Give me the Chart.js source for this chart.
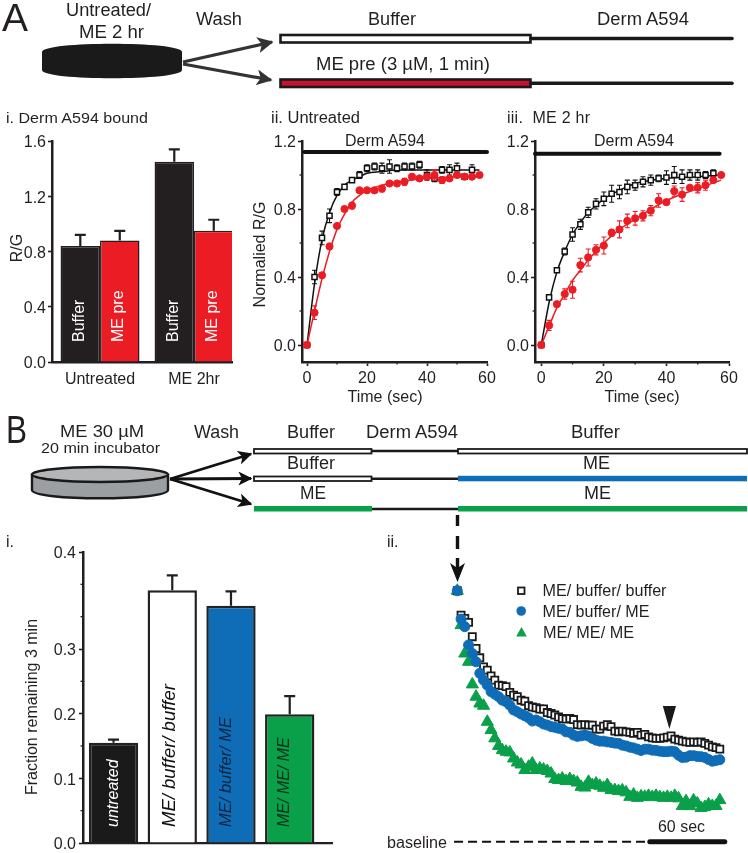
<!DOCTYPE html>
<html><head><meta charset="utf-8">
<style>
html,body{margin:0;padding:0;background:#fff;width:748px;height:853px;overflow:hidden}
#wrap{position:relative;width:748px;height:853px;overflow:hidden}
canvas{position:absolute}
svg{position:absolute;left:0;top:0;pointer-events:none}
svg text{font-family:"Liberation Sans",Arial,sans-serif;fill:#231f20}
</style>
<script src="https://cdn.jsdelivr.net/npm/chart.js@4"></script>
</head><body><div id="wrap">
<canvas id="ai"></canvas><canvas id="aii"></canvas><canvas id="aiii"></canvas><canvas id="bi"></canvas><canvas id="bii"></canvas>
<svg width="748" height="853" viewBox="0 0 748 853">
<defs>
<marker id="hA" viewBox="0 0 10 10" refX="9" refY="5" markerWidth="5" markerHeight="5" orient="auto"><path d="M0 0L10 5L0 10L2.5 5z" fill="#333"/></marker>
<marker id="hB" viewBox="0 0 10 10" refX="9" refY="5" markerWidth="5" markerHeight="5" orient="auto"><path d="M0 0L10 5L0 10L2.5 5z" fill="#111"/></marker>
</defs>
<!-- Panel A schematic -->
<text x="2" y="31" font-size="39" textLength="26" lengthAdjust="spacingAndGlyphs">A</text>
<text x="66" y="16" font-size="18" textLength="85" lengthAdjust="spacingAndGlyphs">Untreated/</text>
<text x="79" y="38" font-size="18" textLength="65" lengthAdjust="spacingAndGlyphs">ME 2 hr</text>
<text x="196" y="25" font-size="18" textLength="46" lengthAdjust="spacingAndGlyphs">Wash</text>
<text x="368" y="25" font-size="18" textLength="48" lengthAdjust="spacingAndGlyphs">Buffer</text>
<text x="597" y="25" font-size="18" textLength="92" lengthAdjust="spacingAndGlyphs">Derm A594</text>
<text x="316" y="70" font-size="18" textLength="174" lengthAdjust="spacingAndGlyphs">ME pre (3 µM, 1 min)</text>
<path d="M42 52C42 41 182 41 182 52V70C182 81 42 81 42 70Z" fill="#1b1a1b"/>
<line x1="183" y1="62" x2="272" y2="42" stroke="#333" stroke-width="3.2" marker-end="url(#hA)"/>
<line x1="183" y1="64" x2="271" y2="80" stroke="#333" stroke-width="3.2" marker-end="url(#hA)"/>
<rect x="280.5" y="35" width="250" height="7.5" fill="#fff" stroke="#1b1a1b" stroke-width="2.6"/>
<line x1="531" y1="38.5" x2="732" y2="38.5" stroke="#1b1a1b" stroke-width="3.6" stroke-linecap="round"/>
<rect x="280.5" y="79.5" width="250" height="7.5" fill="#c4122f" stroke="#1b1a1b" stroke-width="2.6"/>
<line x1="531" y1="83.3" x2="732" y2="83.3" stroke="#1b1a1b" stroke-width="3.6" stroke-linecap="round"/>
<!-- Panel titles row A -->
<text x="6" y="123" font-size="15.5" textLength="142" lengthAdjust="spacingAndGlyphs">i. Derm A594 bound</text>
<text x="271" y="123" font-size="16" textLength="89" lengthAdjust="spacingAndGlyphs">ii. Untreated</text>
<text x="507" y="123" font-size="16" textLength="83" xml:space="preserve">iii.  ME 2 hr</text>
<text x="345" y="146" font-size="16" textLength="80" lengthAdjust="spacingAndGlyphs">Derm A594</text>
<text x="594" y="146" font-size="16" textLength="80" lengthAdjust="spacingAndGlyphs">Derm A594</text>
<text x="385" y="402" font-size="16" text-anchor="middle">Time (sec)</text>
<text x="642" y="402" font-size="16" text-anchor="middle">Time (sec)</text>
<text transform="translate(22,248) rotate(-90)" font-size="16" text-anchor="middle">R/G</text>
<text transform="translate(265,254.5) rotate(-90)" font-size="16" text-anchor="middle">Normalied R/G</text>
<!-- Panel B schematic -->
<text x="6" y="443" font-size="39" textLength="21" lengthAdjust="spacingAndGlyphs">B</text>
<text x="60" y="437" font-size="17" textLength="84" lengthAdjust="spacingAndGlyphs">ME 30 µM</text>
<text x="41" y="453" font-size="14.5" textLength="119" lengthAdjust="spacingAndGlyphs">20 min incubator</text>
<text x="194" y="438" font-size="18" textLength="45" lengthAdjust="spacingAndGlyphs">Wash</text>
<text x="287" y="438" font-size="18" textLength="48" lengthAdjust="spacingAndGlyphs">Buffer</text>
<text x="366" y="438" font-size="18" textLength="92" lengthAdjust="spacingAndGlyphs">Derm A594</text>
<text x="571" y="438" font-size="18" textLength="49" lengthAdjust="spacingAndGlyphs">Buffer</text>
<text x="287" y="469" font-size="18" textLength="48" lengthAdjust="spacingAndGlyphs">Buffer</text>
<text x="583" y="469" font-size="18" textLength="27" lengthAdjust="spacingAndGlyphs">ME</text>
<text x="300" y="499" font-size="18" textLength="26" lengthAdjust="spacingAndGlyphs">ME</text>
<text x="584" y="499" font-size="18" textLength="27" lengthAdjust="spacingAndGlyphs">ME</text>
<path d="M32 474V490C32 501 168 501 168 490V474" fill="#9c9fa2" stroke="#1b1a1b" stroke-width="2.4"/>
<ellipse cx="100" cy="474.5" rx="68" ry="7.5" fill="#b4b6b8" stroke="#1b1a1b" stroke-width="2.4"/>
<line x1="170" y1="479" x2="251" y2="454" stroke="#111" stroke-width="2.8" marker-end="url(#hB)"/>
<line x1="170" y1="479" x2="251" y2="478.5" stroke="#111" stroke-width="2.8" marker-end="url(#hB)"/>
<line x1="170" y1="479" x2="251" y2="504" stroke="#111" stroke-width="2.8" marker-end="url(#hB)"/>
<rect x="254" y="449" width="117.5" height="4.5" fill="#fff" stroke="#1b1a1b" stroke-width="1.8"/>
<line x1="372" y1="451" x2="458" y2="451" stroke="#1b1a1b" stroke-width="2.4"/>
<rect x="458" y="449" width="289" height="4.5" fill="#fff" stroke="#1b1a1b" stroke-width="1.8"/>
<rect x="254" y="476.5" width="117.5" height="4.5" fill="#fff" stroke="#1b1a1b" stroke-width="1.8"/>
<line x1="372" y1="478.7" x2="458" y2="478.7" stroke="#1b1a1b" stroke-width="2.4"/>
<rect x="458" y="475.8" width="289" height="5.5" fill="#0f6cb6"/>
<rect x="254" y="506" width="118" height="5.5" fill="#0a9f49"/>
<line x1="372" y1="509" x2="458" y2="509" stroke="#1b1a1b" stroke-width="2.4"/>
<rect x="458" y="506" width="289" height="5.5" fill="#0a9f49"/>
<path d="M457.5 515V526M457.5 536V549M457.5 558V577" stroke="#111" stroke-width="3.4" fill="none"/>
<path d="M450 563L457.5 568L465 563L457.5 582Z" fill="#111"/>
<text x="6" y="547" font-size="16">i.</text>
<text x="387" y="547" font-size="16">ii.</text>
<text transform="translate(37,707) rotate(-90)" font-size="16" text-anchor="middle">Fraction remaining 3 min</text>
<!-- Legend B.ii -->
<rect x="518" y="587.5" width="6.5" height="6.5" fill="#fff" stroke="#1b1a1b" stroke-width="1.8"/>
<circle cx="521.2" cy="611" r="4.8" fill="#0f6cb6"/>
<path d="M521.5 627L526.8 636.5H516.2Z" fill="#0a9f49"/>
<text x="542.5" y="596" font-size="16.5" textLength="124" lengthAdjust="spacingAndGlyphs">ME/ buffer/ buffer</text>
<text x="542.5" y="617" font-size="16.5" textLength="107" lengthAdjust="spacingAndGlyphs">ME/ buffer/ ME</text>
<text x="543" y="638" font-size="16.5" textLength="91" lengthAdjust="spacingAndGlyphs">ME/ ME/ ME</text>
<text x="658" y="832" font-size="16" textLength="47" lengthAdjust="spacingAndGlyphs">60 sec</text>
<text x="387" y="848" font-size="16" textLength="60" lengthAdjust="spacingAndGlyphs">baseline</text>
<path d="M662.8 706H676L669.4 729Z" fill="#1b1a1b"/>
</svg>
</div>
<script>
// ---------- Panel A.i ----------
const aiGroups = ["Untreated", "ME 2hr"];
const aiBuffer = [0.84, 1.45];
const aiMePre = [0.88, 0.95];
const aiBufferErr = [0.08, 0.09];
const aiMePreErr = [0.07, 0.08];
const aiYTicks = [0, 0.4, 0.8, 1.2, 1.6];

// ---------- Panels A.ii and A.iii ----------
const timeA = [0,2.5,5,7.5,10,12.5,15,17.5,20,22.5,25,27.5,30,32.5,35,37.5,40,42.5,45,47.5,50,52.5,55,57.5];
const aiiBlack = [0,0.40,0.63,0.76,0.90,0.93,0.97,1.00,1.04,1.05,1.04,1.05,1.04,1.05,1.05,1.06,1.00,0.98,1.03,1.03,1.04,0.99,1.03];
const aiiBlackErr = [0,0.04,0.04,0.04,0.02,0.01,0.01,0.02,0.02,0.02,0.03,0.04,0.02,0.02,0.02,0.02,0.03,0.02,0.02,0.03,0.03,0.01,0.03];
const aiiRed = [0,0.19,0.41,0.58,0.70,0.80,0.82,0.91,0.91,0.91,0.92,0.95,0.95,0.96,0.99,0.98,0.99,1.00,0.97,0.98,1.00,0.99,0.99,1.00];
const aiiRedErr = [0,0.04,0.01,0.01,0.01,0.01,0.02,0.01,0.01,0.01,0.02,0.01,0.01,0.02,0.01,0.01,0.01,0.03,0.02,0.01,0.01,0.01,0.01,0.01];
const fitTimeA = [0,2.5,5,7.5,10,12.5,15,17.5,20,25,30,40,50,57.5];
const aiiBlackFit = [0,0.36,0.62,0.78,0.88,0.94,0.97,0.99,1.01,1.02,1.03,1.03,1.03,1.03];
const aiiRedFit = [0,0.20,0.39,0.55,0.68,0.77,0.84,0.88,0.91,0.94,0.96,0.98,0.99,0.99];
const aiiiBlack = [0,0.28,0.44,0.55,0.65,0.71,0.78,0.83,0.86,0.89,0.90,0.93,0.94,0.96,0.97,0.98,0.985,1.00,0.99,1.00,1.00,1.00,1.01];
const aiiiBlackErr = [0,0.01,0.01,0.02,0.04,0.03,0.03,0.03,0.04,0.05,0.04,0.04,0.03,0.03,0.03,0.02,0.04,0.05,0.04,0.03,0.03,0.02,0.02];
const aiiiRed = [0,0.115,0.24,0.30,0.325,0.47,0.515,0.56,0.585,0.66,0.68,0.73,0.745,0.76,0.79,0.85,0.84,0.905,0.885,0.925,0.925,0.94,0.97,1.00];
const aiiiRedErr = [0,0.03,0.01,0.03,0.05,0.04,0.05,0.03,0.05,0.02,0.05,0.04,0.04,0.03,0.03,0.04,0.01,0.03,0.04,0.01,0.03,0.03,0.01,0.01];
const aiiiBlackFit = [0,0.25,0.43,0.55,0.65,0.72,0.78,0.82,0.86,0.91,0.95,0.98,0.99,1.00];
const aiiiRedFit = [0,0.11,0.22,0.30,0.38,0.44,0.50,0.55,0.60,0.68,0.74,0.85,0.92,0.97];
const aiiYTicks = [0, 0.4, 0.8, 1.2];
const aiiXTicks = [0, 20, 40, 60];
const aiiDermX = [-0.9, 60];
const aiiiDermX = [-2, 57];

// ---------- Panel B.i ----------
const biCats = ["untreated", "ME/ buffer/ buffer", "ME/ buffer/ ME", "ME/ ME/ ME"];
const biValues = [0.155, 0.391, 0.367, 0.199];
const biErr = [0.005, 0.023, 0.022, 0.028];
const biYTicks = [0, 0.1, 0.2, 0.3, 0.45];
const biYLabels = ["0.0", "0.1", "0.2", "0.3", "0.4"];

// ---------- Panel B.ii ----------
const biiTimeStep3 = [0,3,6,9,12,15,18,21,24,27,30,33,36,39,42,45,48,51,54,57,60,63,66,69,72,75,78,81,84,87,90,93,96,99,102,105,108,111,114,117,120,123,126,129,132,135,138,141,144,147,150,153,156,159,162,165,168,171,174,177,180,183,186,189,192,195,198,201,204,207,210];
const biiBuffer = [1,.903,.890,.874,.817,.770,.733,.697,.684,.661,.644,.624,.622,.618,.595,.584,.578,.564,.560,.542,.537,.534,.529,.529,.515,.511,.505,.497,.491,.489,.491,.487,.467,.465,.467,.465,.465,.449,.449,.461,.467,.459,.441,.438,.441,.438,.436,.432,.436,.425,.428,.418,.414,.412,.412,.414,.417,.422,.409,.405,.401,.398,.396,.398,.396,.398,.392,.385,.378,.375,.369];
const biiBufferMe = [1,.887,.857,.784,.750,.717,.671,.644,.624,.598,.588,.578,.564,.558,.544,.525,.518,.509,.502,.494,.481,.485,.478,.469,.465,.459,.456,.452,.449,.438,.436,.425,.420,.422,.425,.421,.412,.405,.401,.401,.398,.396,.393,.392,.385,.382,.377,.374,.369,.364,.369,.369,.365,.364,.361,.359,.359,.361,.359,.345,.336,.337,.343,.343,.340,.339,.336,.328,.321,.324,.327];
const biiMeMe = [1,.863,.750,.717,.627,.578,.551,.542,.478,.445,.412,.382,.365,.359,.356,.332,.316,.308,.286,.299,.312,.286,.292,.288,.282,.272,.250,.246,.252,.242,.250,.242,.236,.219,.216,.239,.226,.232,.223,.215,.226,.206,.206,.202,.205,.197,.179,.188,.175,.181,.179,.183,.178,.183,.178,.175,.179,.175,.183,.173,.143,.162,.142,.165,.153,.135,.139,.149,.143,.143,.166];
const biiBaselineX = [-2.6, 154];
const bii60secX = [154, 214];

const INK = "#231f20", RED = "#ec1c24", BLUE = "#0f6cb6", GREEN = "#0a9f49";
Chart.defaults.font.family = '"Liberation Sans", Arial, sans-serif';
Chart.defaults.color = INK;
Chart.defaults.animation = false;

const pairs = (xs, ys) => ys.map((y, i) => ({x: xs[i], y}));

const panelPlugin = {
  id: "panelExtras",
  beforeDatasetDraw(chart, args) {
    const ds = chart.data.datasets[args.index];
    if (!ds.err) return;
    const c = chart.ctx, yS = chart.scales.y, vals = ds.data;
    c.save();
    c.strokeStyle = ds.errColor || INK;
    c.lineWidth = ds.errWidth || 1;
    args.meta.data.forEach((el, i) => {
      const e = ds.err[i]; if (!e) return;
      const v = vals[i].y, x = el.x, top = yS.getPixelForValue(v + e);
      const low = ds.errUpOnly ? yS.getPixelForValue(v) : yS.getPixelForValue(v - e);
      const cap = ds.errCap || 2.5;
      c.beginPath();
      c.moveTo(x, low); c.lineTo(x, top);
      c.moveTo(x - cap, top); c.lineTo(x + cap, top);
      if (!ds.errUpOnly) { c.moveTo(x - cap, low); c.lineTo(x + cap, low); }
      c.stroke();
    });
    c.restore();
  },
  afterDraw(chart) {
    const o = chart.options.plugins.panelExtras || {}, c = chart.ctx;
    c.save();
    c.strokeStyle = INK; c.lineWidth = 1.3;
    (o.minorY || []).forEach(v => {
      const p = chart.scales.y.getPixelForValue(v), l = chart.chartArea.left;
      c.beginPath(); c.moveTo(l - 2.5, p); c.lineTo(l, p); c.stroke();
    });
    (o.minorX || []).forEach(v => {
      const p = chart.scales.x.getPixelForValue(v), b = chart.chartArea.bottom;
      c.beginPath(); c.moveTo(p, b); c.lineTo(p, b + 2.5); c.stroke();
    });
    // vertical text inside the bars
    chart.data.datasets.forEach((ds, di) => {
      if (!ds.barText) return;
      chart.getDatasetMeta(di).data.forEach((el, i) => {
        const t = ds.barText[i];
        c.save();
        c.translate(el.x + t.dx, chart.scales.y.getPixelForValue(0) - t.up);
        c.rotate(-Math.PI / 2);
        c.textAlign = "left"; c.textBaseline = "middle";
        c.font = `${t.italic ? "italic " : ""}${t.size}px "Liberation Sans", Arial, sans-serif`;
        c.fillStyle = t.color;
        c.fillText(t.text, 0, 0);
        c.restore();
      });
    });
    c.restore();
  }
};
Chart.register(panelPlugin);

function setBox(id, l, t, r, b) {
  const cv = document.getElementById(id);
  cv.width = r - l; cv.height = b - t;
  cv.style.left = l + "px"; cv.style.top = t + "px";
  cv.style.width = (r - l) + "px"; cv.style.height = (b - t) + "px";
  return cv;
}
function axisBase(opts) {
  return Object.assign({
    border: {display: true, color: INK, width: 2.5},
    grid: {display: true, drawOnChartArea: false, drawTicks: true, tickLength: 4, tickColor: INK, tickWidth: 1.6}
  }, opts);
}
function fixedTicks(vals) { return s => { s.ticks = vals.map(v => ({value: v})); }; }

const baseOpts = (box, plot, scales, extras) => ({
  responsive: false, animation: false,
  layout: {autoPadding: false, padding: {top: plot.t - box.t, right: box.r - plot.r, left: 0, bottom: 0}},
  plugins: {legend: {display: false}, tooltip: {enabled: false}, panelExtras: extras || {}},
  scales
});

// A.i bars
(function () {
  const box = {l: 0, t: 128, r: 245, b: 395}, plot = {l: 52, t: 141, r: 232, b: 362};
  const cv = setBox("ai", box.l, box.t, box.r, box.b);
  new Chart(cv, {
    type: "bar",
    data: {datasets: [
      {label: "Buffer", data: pairs([1, 2], aiBuffer), backgroundColor: INK, borderColor: INK, borderWidth: 1.5,
       err: aiBufferErr, errUpOnly: true, errWidth: 2.2, errCap: 5.5, errColor: INK,
       barText: aiBuffer.map(() => ({text: "Buffer", size: 16, color: "#fff", up: 20, dx: -1}))},
      {label: "ME pre", data: pairs([1, 2], aiMePre), backgroundColor: RED, borderColor: INK, borderWidth: 1.5,
       err: aiMePreErr, errUpOnly: true, errWidth: 2.2, errCap: 5.5, errColor: INK,
       barText: aiMePre.map(() => ({text: "ME pre", size: 16, color: "#fff", up: 20, dx: -1}))}
    ]},
    options: Object.assign(baseOpts(box, plot, {
      x: axisBase({type: "linear", min: 0.489, max: 2.404, offset: false,
        afterBuildTicks: fixedTicks([1, 2]),
        afterFit: s => { s.height = box.b - plot.b; },
        grid: {display: true, drawOnChartArea: false, drawTicks: false},
        ticks: {font: {size: 16}, padding: 8, maxRotation: 0, autoSkip: false, callback: v => aiGroups[v - 1]}}),
      y: axisBase({min: 0, max: 1.6,
        afterBuildTicks: fixedTicks(aiYTicks),
        afterFit: s => { s.width = plot.l - box.l; },
        ticks: {font: {size: 16}, padding: 2, labelOffset: 2, callback: v => v.toFixed(1)}})
    }), {datasets: {bar: {categoryPercentage: 0.84, barPercentage: 1}}})
  });
})();

function timeChart(id, box, plot, xMin, dermX, dermY, blackPts, blackErr, redPts, redErr, blackFit, redFit) {
  const cv = setBox(id, box.l, box.t, box.r, box.b);
  const markers = {pointRadius: 3.6, showLine: false, clip: false};
  new Chart(cv, {
    type: "scatter",
    data: {datasets: [
      {label: "ME pre", data: pairs(timeA, redPts), pointStyle: "circle", pointBackgroundColor: RED, pointBorderColor: RED,
       err: redErr, errColor: RED, errWidth: 1.1, ...markers},
      {label: "ME pre fit", data: pairs(fitTimeA, redFit), showLine: true, borderColor: RED, borderWidth: 1.5, pointRadius: 0, cubicInterpolationMode: "monotone", clip: false},
      {label: "Buffer", data: pairs(timeA, blackPts), pointStyle: "rect", pointBackgroundColor: "#fff", pointBorderColor: "#111", pointBorderWidth: 1.5,
       err: blackErr, errColor: "#111", errWidth: 1.1, ...markers},
      {label: "Buffer fit", data: pairs(fitTimeA, blackFit), showLine: true, borderColor: "#111", borderWidth: 1.5, pointRadius: 0, cubicInterpolationMode: "monotone", clip: false},
      {label: "Derm A594", data: pairs(dermX, dermX.map(() => dermY)), showLine: true, borderColor: "#111", borderWidth: 4, borderCapStyle: "round", pointRadius: 0, clip: false}
    ]},
    options: baseOpts(box, plot, {
      x: axisBase({type: "linear", min: xMin, max: 60,
        afterBuildTicks: fixedTicks(aiiXTicks),
        afterFit: s => { s.height = box.b - plot.b; },
        ticks: {font: {size: 16}, padding: 3, maxRotation: 0, autoSkip: false, callback: v => String(v)}}),
      y: axisBase({min: -0.1, max: 1.2,
        afterBuildTicks: fixedTicks(aiiYTicks),
        afterFit: s => { s.width = plot.l - box.l; },
        ticks: {font: {size: 16}, padding: 2, labelOffset: 2, callback: v => v.toFixed(1)}})
    }, {minorY: [0.2, 0.6, 1.0], minorX: [10, 30, 50]})
  });
}
timeChart("aii", {l: 245, t: 128, r: 505, b: 392}, {l: 302, t: 141, r: 487, b: 362}, -1.67, aiiDermX, 1.135,
  aiiBlack, aiiBlackErr, aiiRed, aiiRedErr, aiiBlackFit, aiiRedFit);
timeChart("aiii", {l: 500, t: 128, r: 748, b: 392}, {l: 535, t: 141, r: 729, b: 362}, -2, aiiiDermX, 1.125,
  aiiiBlack, aiiiBlackErr, aiiiRed, aiiiRedErr, aiiiBlackFit, aiiiRedFit);

// B.i bars
(function () {
  const box = {l: 0, t: 535, r: 345, b: 870}, plot = {l: 83, t: 552, r: 332, b: 843};
  const cv = setBox("bi", box.l, box.t, box.r, box.b);
  const textStyle = [
    {size: 16, color: "#fff", dx: 0}, {size: 18.5, color: "#111", dx: -2},
    {size: 16.5, color: "#0b2440", dx: -5}, {size: 16, color: "#06301a", dx: -5}];
  new Chart(cv, {
    type: "bar",
    data: {datasets: [{label: "Fraction remaining 3 min", data: pairs([1, 2, 3, 4], biValues),
      backgroundColor: ["#1b1a1b", "#ffffff", BLUE, GREEN], borderColor: "#222", borderWidth: 2.5,
      err: biErr, errUpOnly: true, errWidth: 2.2, errCap: 5.5,
      barText: biCats.map((t, i) => ({text: t, italic: true, up: 16, ...textStyle[i]}))}]},
    options: Object.assign(baseOpts(box, plot, {
      x: {type: "linear", min: 0.48, max: 4.72, offset: false,
        afterBuildTicks: fixedTicks([1, 2, 3, 4]),
        afterFit: s => { s.height = box.b - plot.b; },
        border: {display: true, color: INK, width: 2.2},
        grid: {display: false}, ticks: {display: false}},
      y: axisBase({min: 0, max: 0.45,
        afterBuildTicks: fixedTicks(biYTicks),
        afterFit: s => { s.width = plot.l - box.l; },
        ticks: {font: {size: 16}, padding: 3, labelOffset: 2, callback: v => biYLabels[biYTicks.indexOf(v)]}})
    }, {minorY: [0.05, 0.15, 0.25, 0.35, 0.4]}), {datasets: {bar: {categoryPercentage: 0.84, barPercentage: 1}}})
  });
})();

// B.ii decay traces
(function () {
  const cv = setBox("bii", 380, 530, 748, 853);
  const t = biiTimeStep3;
  new Chart(cv, {
    type: "scatter",
    data: {datasets: [
      {label: "ME/ buffer/ ME", data: pairs(t, biiBufferMe), pointStyle: "circle", pointRadius: 5, pointBackgroundColor: BLUE, pointBorderColor: BLUE, clip: false},
      {label: "ME/ buffer/ buffer", data: pairs(t, biiBuffer), pointStyle: "rect", pointRadius: 5, pointBackgroundColor: "#fff", pointBorderColor: "#1b1a1b", pointBorderWidth: 1.8, clip: false},
      {label: "ME/ ME/ ME", data: pairs(t, biiMeMe), pointStyle: "triangle", pointRadius: 7, pointBackgroundColor: GREEN, pointBorderColor: GREEN, clip: false},
      {label: "baseline", data: pairs(biiBaselineX, [0, 0]), showLine: true, borderColor: "#111", borderWidth: 2, borderDash: [9, 5], pointRadius: 0},
      {label: "60 sec", data: pairs(bii60secX, [0, 0]), showLine: true, borderColor: "#111", borderWidth: 5, borderCapStyle: "round", pointRadius: 0}
    ]},
    options: {
      responsive: false, animation: false,
      layout: {autoPadding: false, padding: 0},
      plugins: {legend: {display: false}, tooltip: {enabled: false}, panelExtras: {}},
      scales: {
        x: {type: "linear", display: false, min: -61.84, max: 232.56},
        y: {display: false, min: -0.0446, max: 1.242}
      }
    }
  });
})();
</script>
</body></html>
